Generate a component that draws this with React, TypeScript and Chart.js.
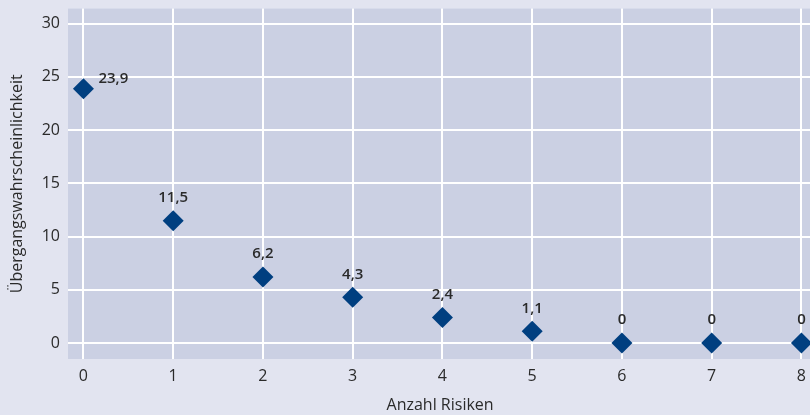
import React, { useEffect, useRef } from "react";
import { Chart, registerables } from "chart.js";

Chart.register(...registerables);

const categories: number[] = [0, 1, 2, 3, 4, 5, 6, 7, 8];
const values: number[] = [23.9, 11.5, 6.2, 4.3, 2.4, 1.1, 0, 0, 0];
const valueLabels: string[] = ["23,9", "11,5", "6,2", "4,3", "2,4", "1,1", "0", "0", "0"];
const yTicks: number[] = [0, 5, 10, 15, 20, 25, 30];
const xTitle = "Anzahl Risiken";
const yTitle = "Übergangswahrscheinlichkeit";

const FONT = "'Open Sans', 'Noto Sans', sans-serif";
const OUTER_BG = "#e2e4f0";
const PLOT_BG = "#cbd0e3";
const MARK = "#003f80";
const TEXT = "#2a2a2a";

export default function App() {
  const ref = useRef<HTMLCanvasElement | null>(null);
  useEffect(() => {
    document.body.style.margin = "0";
    document.body.style.overflow = "hidden";
    const canvas = ref.current!;
    const plotBg = {
      id: "plotBg",
      beforeDraw(chart: any) {
        const { ctx, chartArea } = chart;
        ctx.save();
        ctx.fillStyle = PLOT_BG;
        ctx.fillRect(chartArea.left, chartArea.top, chartArea.right - chartArea.left, chartArea.bottom - chartArea.top);
        ctx.restore();
      },
    };
    const labels = {
      id: "valueLabels",
      afterDatasetsDraw(chart: any) {
        const { ctx, scales } = chart;
        ctx.save();
        ctx.fillStyle = TEXT;
        ctx.font = `600 15px ${FONT}`;
        ctx.textBaseline = "middle";
        values.forEach((v, i) => {
          const x = scales.x.getPixelForValue(categories[i]);
          const y = scales.y.getPixelForValue(v);
          if (i === 0) {
            ctx.textAlign = "left";
            ctx.fillText(valueLabels[i], x + 15, y - 10);
          } else {
            ctx.textAlign = "center";
            ctx.fillText(valueLabels[i], x, y - 23);
          }
        });
        ctx.restore();
      },
    };
    const chart = new Chart(canvas, {
      type: "scatter",
      data: {
        datasets: [
          {
            data: categories.map((c, i) => ({ x: c, y: values[i] })),
            pointStyle: "rectRot",
            pointRadius: 10.5,
            pointHoverRadius: 10.5,
            backgroundColor: MARK,
            borderColor: MARK,
            borderWidth: 0,
            clip: false,
          },
        ],
      },
      options: {
        responsive: false,
        animation: false,
        layout: { autoPadding: false, padding: { top: 0, left: 0, right: 0, bottom: 0 } },
        plugins: { legend: { display: false }, tooltip: { enabled: false } },
        scales: {
          x: {
            type: "linear",
            min: -0.172,
            max: 8.12,
            afterBuildTicks: (scale: any) => {
              scale.ticks = categories.map((c) => ({ value: c }));
            },
            afterFit: (scale: any) => {
              scale.height = 56;
            },
            grid: { color: "#ffffff", lineWidth: 2, drawTicks: false },
            border: { display: false },
            ticks: {
              color: TEXT,
              font: { family: FONT, size: 16 },
              padding: 8,
              callback: (v: any) => String(v),
            },
            title: {
              display: true,
              text: xTitle,
              color: TEXT,
              font: { family: FONT, size: 16 },
              padding: { top: 5, bottom: 0 },
            },
          },
          y: {
            type: "linear",
            min: -1.5,
            max: 31.42,
            afterBuildTicks: (scale: any) => {
              scale.ticks = yTicks.map((t) => ({ value: t }));
            },
            afterFit: (scale: any) => {
              scale.width = 68;
            },
            grid: { color: "#ffffff", lineWidth: 2, drawTicks: false },
            border: { display: false },
            ticks: {
              color: TEXT,
              font: { family: FONT, size: 16 },
              padding: 8,
              callback: (v: any) => String(v),
            },
            title: {
              display: true,
              text: yTitle,
              color: TEXT,
              font: { family: FONT, size: 16 },
              padding: { top: 8, bottom: 0 },
            },
          },
        },
      },
      plugins: [plotBg, labels],
    });
    return () => chart.destroy();
  }, []);
  return (
    <div style={{ width: 810, height: 415, overflow: "hidden", background: OUTER_BG }}>
      <canvas ref={ref} width={814} height={424} style={{ display: "block", marginTop: -9 }} />
    </div>
  );
}
